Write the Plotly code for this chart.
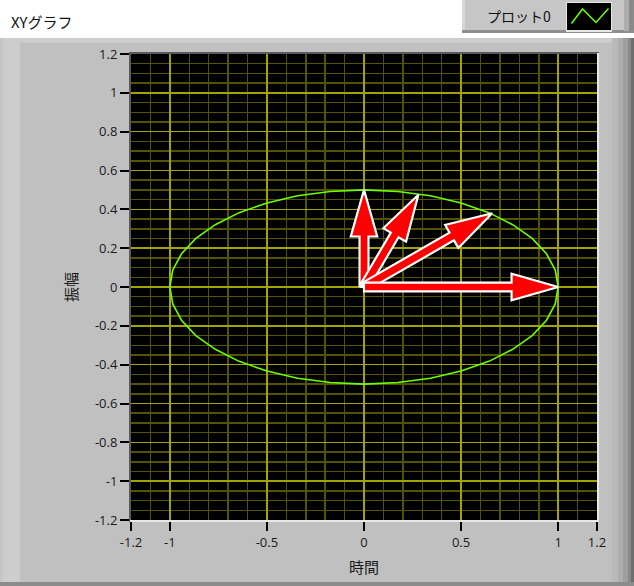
import plotly.graph_objects as go

# ---------------- data ----------------
# ellipse (plot 0): x in [-1,1], y in [-0.5,0.5]
ellipse_x = [1.0, 0.985, 0.94, 0.866, 0.766, 0.643, 0.5, 0.342, 0.174, 0.0,
             -0.174, -0.342, -0.5, -0.643, -0.766, -0.866, -0.94, -0.985, -1.0,
             -0.985, -0.94, -0.866, -0.766, -0.643, -0.5, -0.342, -0.174, 0.0,
             0.174, 0.342, 0.5, 0.643, 0.766, 0.866, 0.94, 0.985, 1.0]
ellipse_y = [0.0, 0.087, 0.171, 0.25, 0.321, 0.383, 0.433, 0.47, 0.492, 0.5,
             0.492, 0.47, 0.433, 0.383, 0.321, 0.25, 0.171, 0.087, 0.0,
             -0.087, -0.171, -0.25, -0.321, -0.383, -0.433, -0.47, -0.492, -0.5,
             -0.492, -0.47, -0.433, -0.383, -0.321, -0.25, -0.171, -0.087, 0.0]

# arrow tips (all arrows start at origin)
arrow_tip_x = [0.0, 0.28, 0.66, 1.0]
arrow_tip_y = [0.5, 0.475, 0.38, 0.0]

x_tickvals = [-1.2, -1, -0.5, 0, 0.5, 1, 1.2]
x_ticktext = ["-1.2", "-1", "-0.5", "0", "0.5", "1", "1.2"]
y_tickvals = [-1.2, -1, -0.8, -0.6, -0.4, -0.2, 0, 0.2, 0.4, 0.6, 0.8, 1, 1.2]
y_ticktext = ["-1.2", "-1", "-0.8", "-0.6", "-0.4", "-0.2", "0", "0.2", "0.4",
              "0.6", "0.8", "1", "1.2"]

graph_title = "XYグラフ"
legend_label = "プロット0"
x_title = "時間"
y_title = "振幅"

# ---------------- layout geometry ----------------
W, H = 634, 586
L, T = 131, 54
PW, PH = 466, 466
R = W - L - PW
B = H - T - PH

def px(x):
    return (x - L) / PW

def py(y):
    return (T + PH - y) / PH

FONT = "Segoe UI, Open Sans, Noto Sans CJK JP, sans-serif"
JFONT = "Noto Sans CJK JP, sans-serif"

fig = go.Figure()

# ellipse
fig.add_trace(go.Scatter(x=ellipse_x, y=ellipse_y, mode="lines",
                         line=dict(color="#6cff00", width=1.6),
                         hoverinfo="skip", showlegend=False))

# arrows as filled polygons derived from tip positions
HEAD_LEN = 0.24
HEAD_HALF = 0.068
SHAFT_HALF = 0.023
for tx, ty in zip(arrow_tip_x, arrow_tip_y):
    ln = (tx ** 2 + ty ** 2) ** 0.5
    dx, dy = tx / ln, ty / ln
    nx, ny = -dy, dx
    bx, by = tx - dx * HEAD_LEN, ty - dy * HEAD_LEN
    xs = [nx * SHAFT_HALF, bx + nx * SHAFT_HALF, bx + nx * HEAD_HALF, tx,
          bx - nx * HEAD_HALF, bx - nx * SHAFT_HALF, -nx * SHAFT_HALF, nx * SHAFT_HALF]
    ys = [ny * SHAFT_HALF, by + ny * SHAFT_HALF, by + ny * HEAD_HALF, ty,
          by - ny * HEAD_HALF, by - ny * SHAFT_HALF, -ny * SHAFT_HALF, ny * SHAFT_HALF]
    fig.add_trace(go.Scatter(x=xs, y=ys, mode="lines", fill="toself",
                             fillcolor="#ff0000",
                             line=dict(color="#ffffff", width=2.2),
                             hoverinfo="skip", showlegend=False))

MAJOR = "#a4a400"
MINOR = "#545400"

fig.update_xaxes(range=[-1.2, 1.2], tickmode="array", tickvals=x_tickvals,
                 ticktext=x_ticktext, showgrid=True, gridcolor=MAJOR, gridwidth=1.6,
                 zeroline=False, showline=False, ticks="outside", ticklen=10,
                 tickwidth=2, tickcolor="#000000",
                 tickfont=dict(family=FONT, size=13, color="#1a1a1a"),
                 minor=dict(tickmode="linear", tick0=-1.2, dtick=0.1, showgrid=True,
                            gridcolor=MINOR, gridwidth=1.5, ticks=""),
                 title=dict(text=x_title, standoff=12,
                            font=dict(family=JFONT, size=15, color="#1a1a1a")),
                 fixedrange=True)
fig.update_yaxes(range=[-1.2, 1.2], tickmode="array", tickvals=y_tickvals,
                 ticktext=y_ticktext, showgrid=True, gridcolor=MAJOR, gridwidth=1.6,
                 zeroline=False, showline=False, ticks="outside", ticklen=10,
                 tickwidth=2, tickcolor="#000000",
                 tickfont=dict(family=FONT, size=13, color="#1a1a1a"),
                 minor=dict(tickmode="linear", tick0=-1.2, dtick=0.05, showgrid=True,
                            gridcolor=MINOR, gridwidth=1.5, ticks=""),
                 title=dict(text=y_title, standoff=13,
                            font=dict(family=JFONT, size=15, color="#1a1a1a")),
                 fixedrange=True)

shapes = []

def rect(x0, y0, x1, y1, color, layer="below"):
    shapes.append(dict(type="rect", xref="paper", yref="paper",
                       x0=px(x0), x1=px(x1), y0=py(y1), y1=py(y0),
                       fillcolor=color, line=dict(width=0), layer=layer))

# white header area
rect(0, 0, W, 38, "#ffffff")
# panel top light strip
rect(0, 38, W, 43, "#cdcdcd")
# left bevel
rect(0, 38, 3, H, "#c6c6c6")
rect(3, 38, 20, H, "#cdcdcd")
# right bevel gradient
rect(612, 38, 618, H, "#b9b9b9")
rect(618, 38, 623, H, "#adadad")
rect(623, 38, 628, H, "#9f9f9f")
rect(628, 38, 631, H, "#8a8a8a")
rect(631, 38, W, H, "#6e6e6e")
# bottom edge
rect(0, 582, W, H, "#8c8c8c")

# legend box
rect(462, 0, W, 33, "#c6c6c6")
rect(462, 0, 465, 33, "#d6d6d6")
rect(462, 30, W, 33, "#8e8e8e")
rect(624, 0, 629, 31, "#adadad")
rect(629, 0, W, 31, "#8a8a8a")
# legend swatch
rect(566, 2, 612, 32, "#e6e6e6")
rect(567, 3, 611, 30, "#000000")

# plot frame borders
rect(129, 52, 599, 54, "#5a5a5a", layer="above")
rect(129, 52, 131, 522, "#5a5a5a", layer="above")
rect(597, 53, 599, 522, "#e8e8e8", layer="above")
rect(130, 520, 599, 522, "#e8e8e8", layer="above")

# legend zigzag icon
zz = [(571.5, 23.5), (582.5, 9.0), (596.0, 22.5), (608.5, 8.5)]
path = "M " + " L ".join(f"{px(a)},{py(b)}" for a, b in zz)
shapes.append(dict(type="path", xref="paper", yref="paper", path=path,
                   line=dict(color="#6cff00", width=1.5), layer="above"))

annotations = [
    dict(text=graph_title, xref="paper", yref="paper", x=px(9), y=py(22),
         xanchor="left", yanchor="middle", showarrow=False,
         font=dict(family=JFONT, size=15, color="#111111")),
    dict(text=legend_label, xref="paper", yref="paper", x=px(519), y=py(16),
         xanchor="center", yanchor="middle", showarrow=False,
         font=dict(family=JFONT, size=14, color="#111111")),
]

fig.update_layout(width=W, height=H,
                  margin=dict(l=L, r=R, t=T, b=B, pad=0, autoexpand=False),
                  paper_bgcolor="#c0c0c0", plot_bgcolor="#000000",
                  shapes=shapes, annotations=annotations,
                  showlegend=False, hovermode=False, dragmode=False)

fig.write_html("out.html", config={"displayModeBar": False, "staticPlot": True})

# remove the browser's default page margin so the figure sits at (0, 0)
with open("out.html", "r", encoding="utf-8") as f:
    html = f.read()
html = html.replace("<body>", '<body style="margin:0;padding:0;overflow:hidden">', 1)
with open("out.html", "w", encoding="utf-8") as f:
    f.write(html)
